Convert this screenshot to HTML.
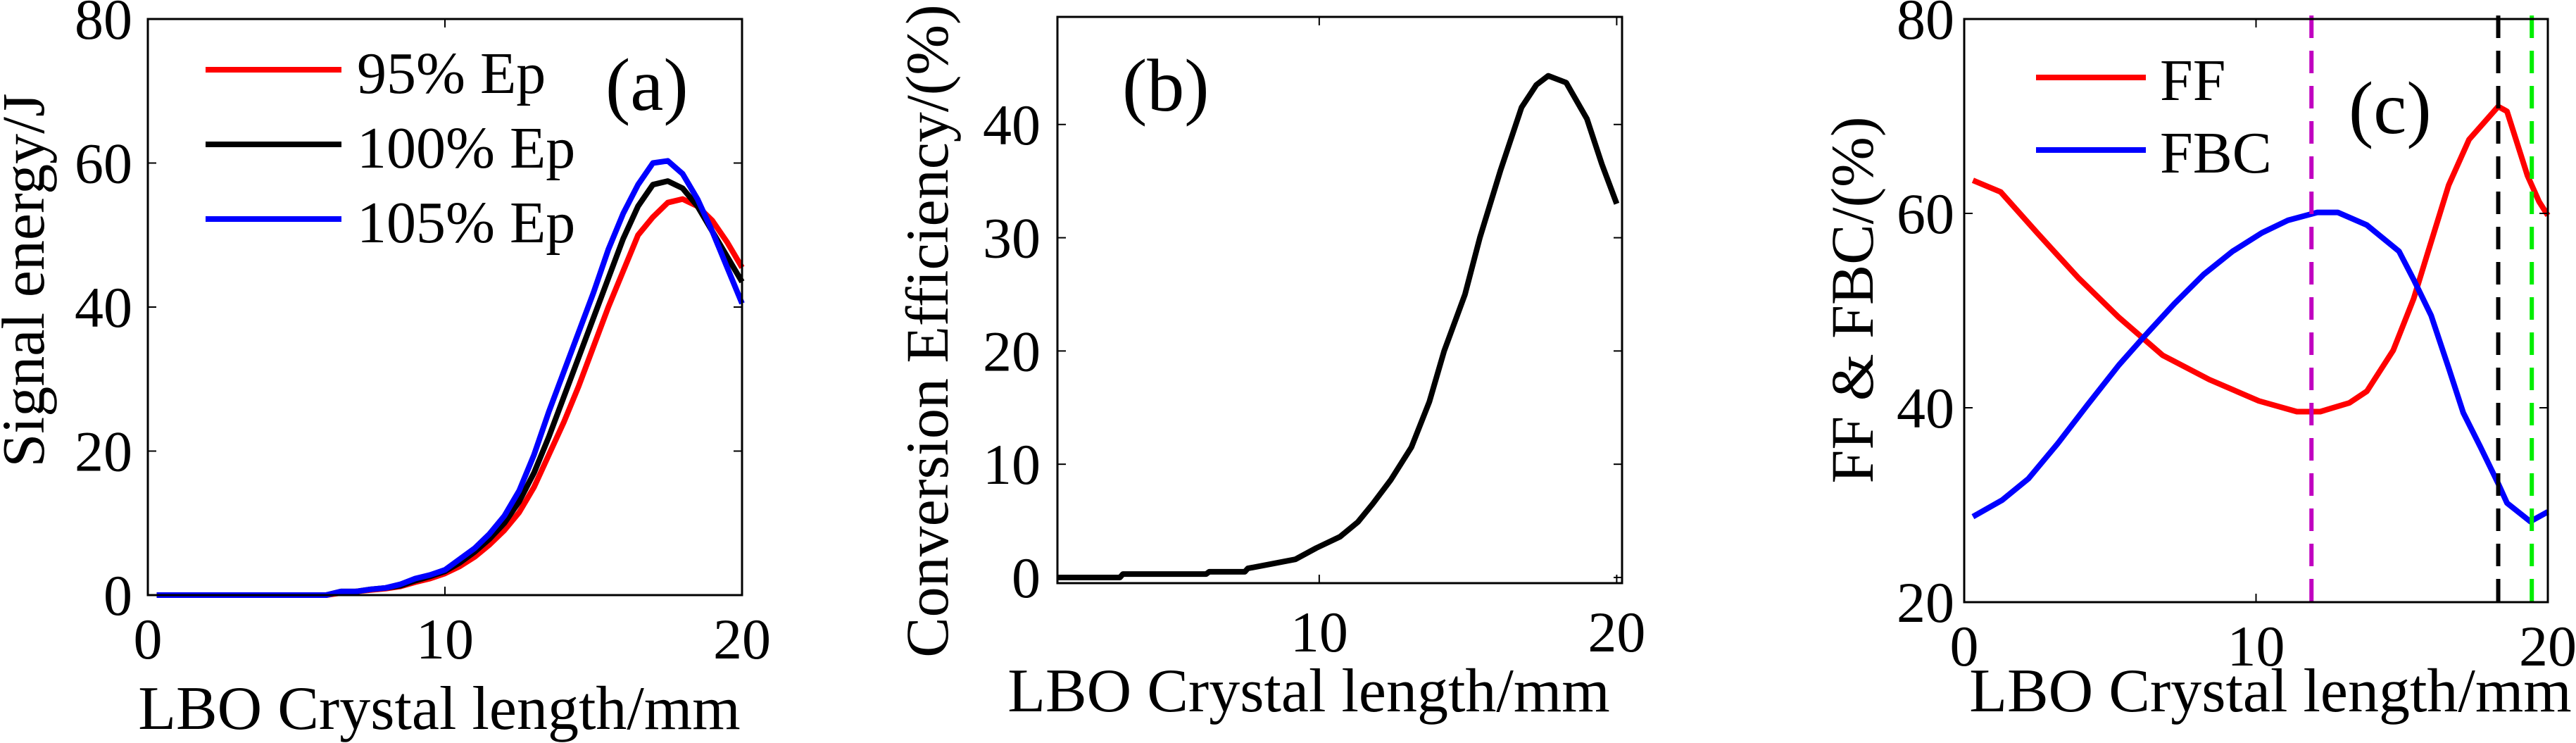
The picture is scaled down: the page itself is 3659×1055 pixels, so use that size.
<!DOCTYPE html>
<html><head><meta charset="utf-8">
<style>
html,body{margin:0;padding:0;background:#fff;}
svg{display:block;font-family:"Liberation Serif",serif;}
</style></head>
<body>
<svg id="fig" width="3659" height="1055" viewBox="0 0 3659 1055" xmlns="http://www.w3.org/2000/svg">
<rect width="3659" height="1055" fill="#fff"/>
</svg>
<script>
// ---------- Panel (a) data ----------
const aX = [0.3,6,6.5,7,7.5,8,8.5,9,9.5,10,10.5,11,11.5,12,12.5,13,13.5,14,14.5,15,15.5,16,16.5,17,17.5,18,18.5,19,19.5,20];
const aRed = [0,0,0.3,0.5,0.7,0.9,1.2,1.8,2.3,3,4,5.3,7,9,11.5,15,19.5,24,29,34.5,40,45,50,52.5,54.5,55,54,52,49,45.5];
const aBlack = [0,0,0.5,0.5,0.8,1,1.3,2,2.6,3.3,4.5,6,7.8,10,13,17,22,27.5,33,38.5,44,49.5,54,57,57.5,56.5,54,50.5,47,43.5];
const aBlue = [0,0,0.5,0.5,0.8,1,1.5,2.3,2.8,3.5,5,6.5,8.5,11,14.5,19.5,25.5,31,36.5,42,48,53,57,60,60.3,58.5,55,50.5,45.5,40.5];
const aLegend = ["95% Ep","100% Ep","105% Ep"];
const aYTicks = [0,20,40,60,80];
const aXTicks = [0,10,20];
// ---------- Panel (b) data ----------
const bX = [1.2,3.3,3.4,6.2,6.3,7.5,7.6,8.4,9.2,9.9,10.7,11.3,11.8,12.4,13.1,13.7,14.2,14.9,15.4,16.1,16.8,17.3,17.7,18.3,19.0,19.5,20.0];
const bY = [0,0,0.3,0.3,0.5,0.5,0.8,1.2,1.6,2.6,3.6,4.9,6.5,8.6,11.5,15.5,20,25,30,36,41.5,43.5,44.3,43.7,40.5,36.5,33];
const bYTicks = [0,10,20,30,40];
const bXTicks = [10,20];
// ---------- Panel (c) data ----------
const cFFx = [0.3,1.25,2.5,3.9,5.3,6.8,8.4,10.1,11.4,12.2,13.2,13.8,14.7,15.4,15.9,16.6,17.3,18.3,18.6,19.3,19.7,20];
const cFF = [63.4,62.2,58,53.4,49.3,45.4,42.9,40.7,39.6,39.6,40.5,41.7,45.9,51.2,56.1,62.9,67.6,71,70.5,63.9,61.2,59.8];
const cFBCx = [0.3,1.3,2.2,3.2,4.2,5.3,6.1,7.2,8.2,9.2,10.2,11.1,12.1,12.8,13.8,14.9,15.4,16.0,16.6,17.1,17.7,18.3,18.6,19.4,20];
const cFBC = [28.8,30.5,32.7,36.3,40.2,44.4,47.1,50.7,53.7,56.1,58,59.3,60.1,60.1,58.8,56.1,53.2,49.5,44.1,39.5,35.9,32.2,30.2,28.3,29.3];
const cVLines = [11.9,18.3,19.45];
const cLegend = ["FF","FBC"];
const cYTicks = [20,40,60,80];
const cXTicks = [0,10,20];

const NS="http://www.w3.org/2000/svg";
const svg=document.getElementById('fig');
function mk(tag,attrs,parent){const e=document.createElementNS(NS,tag);for(const k in attrs)e.setAttribute(k,attrs[k]);(parent||svg).appendChild(e);return e;}
function txt(s,attrs,parent){const e=mk('text',attrs,parent);e.textContent=s;return e;}

function axes(box,xlim,ylim){
  const sx=v=>box.l+(v-xlim[0])/(xlim[1]-xlim[0])*(box.r-box.l);
  const sy=v=>box.b-(v-ylim[0])/(ylim[1]-ylim[0])*(box.b-box.t);
  return {sx,sy};
}
function frame(g,box,sx,sy,xt,yt,yLabRight,xLabBase){
  for(const v of xt){
    const x=sx(v);
    const t1=mk('line',{x1:x,y1:box.b,x2:x,y2:box.b-12,stroke:'#000','stroke-width':2},g);
    
    
    mk('line',{x1:x,y1:box.t,x2:x,y2:box.t+12,stroke:'#000','stroke-width':2},g);
    const l=txt(String(v),{x:x,y:xLabBase,'font-size':82,'text-anchor':'middle'},g);
    
    
  }
  for(const v of yt){
    const y=sy(v);
    const t1=mk('line',{x1:box.l,y1:y,x2:box.l+12,y2:y,stroke:'#000','stroke-width':2},g);
    
    
    mk('line',{x1:box.r,y1:y,x2:box.r-12,y2:y,stroke:'#000','stroke-width':2},g);
    const l=txt(String(v),{x:yLabRight,y:y+28,'font-size':82,'text-anchor':'end'},g);
    
    
  }
  const r=mk('rect',{x:box.l,y:box.t,width:box.r-box.l,height:box.b-box.t,fill:'none',stroke:'#000','stroke-width':3},g);
  
  
}
function series(g,xs,ys,sx,sy,color,name,w){
  const d=xs.map((x,i)=>(i?'L':'M')+sx(x).toFixed(1)+' '+sy(ys[i]).toFixed(1)).join(' ');
  const p=mk('path',{d:d,fill:'none',stroke:color,'stroke-width':w||8,'stroke-linejoin':'round'},g);
  
  
}

// ===== Panel a =====
{
  const g=mk('g',{});
  
  
  const box={l:210,r:1054,t:27,b:845};
  const {sx,sy}=axes(box,[0,20],[0,80]);
  series(g,aX,aRed,sx,sy,'#ff0000','series-95-ep');
  series(g,aX,aBlack,sx,sy,'#000000','series-100-ep');
  series(g,aX,aBlue,sx,sy,'#0000ff','series-105-ep');
  frame(g,box,sx,sy,aXTicks,aYTicks,188,935);
  const cols=['#ff0000','#000000','#0000ff'];
  const ly=[99,205,311];
  aLegend.forEach((s,i)=>{
    const l=mk('line',{x1:292,y1:ly[i],x2:485,y2:ly[i],stroke:cols[i],'stroke-width':8},g);
    
    
    const t=txt(s,{x:507,y:ly[i]+33,'font-size':84},g);
    
    
  });
  const pl=txt('(a)',{x:860,y:156,'font-size':106},g);
  
  
  const yl=txt('Signal energy/J',{x:0,y:0,'font-size':86,'text-anchor':'middle',transform:'translate(62,398) rotate(-90)'},g);
  
  
  const xl=txt('LBO Crystal length/mm',{x:624,y:1035,'font-size':88,'text-anchor':'middle'},g);
  
  
}
// ===== Panel b =====
{
  const g=mk('g',{});
  
  
  const box={l:1502,r:2304,t:24,b:828};
  const {sx,sy}=axes(box,[1.2,20.18],[-0.5,49.5]);
  series(g,bX,bY,sx,sy,'#000000','conversion-efficiency-line');
  frame(g,box,sx,sy,bXTicks,bYTicks,1478,925);
  const pl=txt('(b)',{x:1594,y:157,'font-size':106},g);
  
  
  const yl=txt('Conversion Efficiency/(%)',{x:0,y:0,'font-size':86,'text-anchor':'middle',transform:'translate(1346,470) rotate(-90)'},g);
  
  
  const xl=txt('LBO Crystal length/mm',{x:1859,y:1010,'font-size':88,'text-anchor':'middle'},g);
  
  
}
// ===== Panel c =====
{
  const g=mk('g',{});
  
  
  const box={l:2790,r:3619,t:27,b:855};
  const {sx,sy}=axes(box,[0,20],[20,80]);
  series(g,cFFx,cFF,sx,sy,'#ff0000','ff-line');
  series(g,cFBCx,cFBC,sx,sy,'#0000ff','fbc-line');
  const vc=['#c000c0','#000000','#00ee00'];
  cVLines.forEach((v,i)=>{
    const l=mk('line',{x1:sx(v),y1:22,x2:sx(v),y2:870,stroke:vc[i],'stroke-width':6,'stroke-dasharray':'32 18'},g);
    
    
  });
  frame(g,box,sx,sy,cXTicks,cYTicks,2776,945);
  const cols=['#ff0000','#0000ff'];
  const ly=[110,213];
  cLegend.forEach((s,i)=>{
    const l=mk('line',{x1:2892,y1:ly[i],x2:3048,y2:ly[i],stroke:cols[i],'stroke-width':8},g);
    
    
    const t=txt(s,{x:3068,y:ly[i]+32,'font-size':84},g);
    
    
  });
  const pl=txt('(c)',{x:3336,y:189,'font-size':106},g);
  
  
  const yl=txt('FF & FBC/(%)',{x:0,y:0,'font-size':86,'text-anchor':'middle',transform:'translate(2660,426) rotate(-90)'},g);
  
  
  const xl=txt('LBO Crystal length/mm',{x:3225,y:1010,'font-size':88,'text-anchor':'middle'},g);
  
  
}
</script>
</body></html>
